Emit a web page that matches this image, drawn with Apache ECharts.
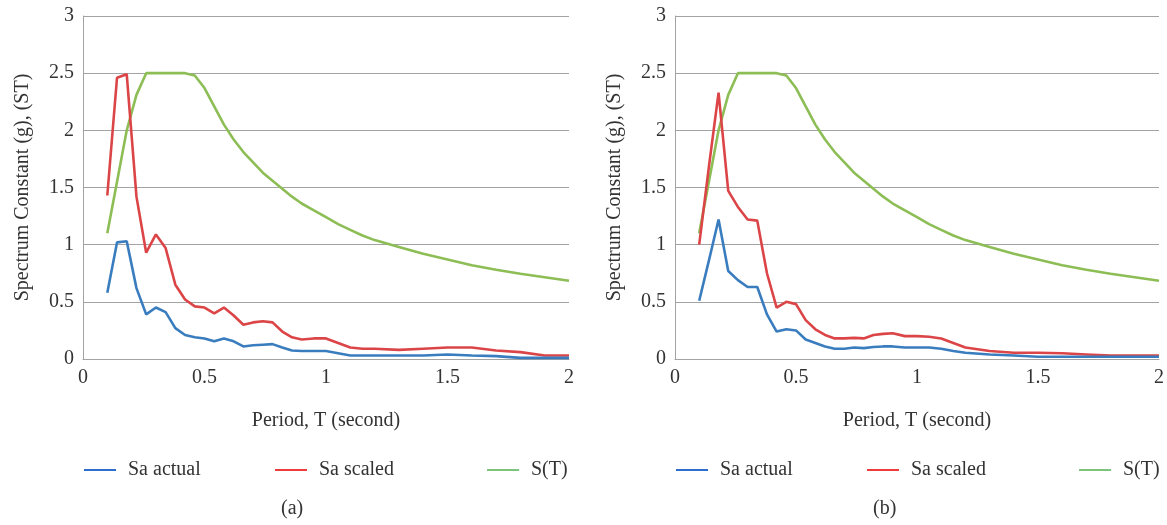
<!DOCTYPE html>
<html>
<head>
<meta charset="utf-8">
<script src="https://cdn.jsdelivr.net/npm/echarts@6/dist/echarts.min.js"></script>
<style>
  html, body { margin: 0; padding: 0; background: #fff; }
  #chart { width: 1167px; height: 525px; }
</style>
</head>
<body>
<div id="chart"></div>
<script>
// period values (s) shared by every curve
var periods = [0.10, 0.14, 0.18, 0.22, 0.26, 0.30, 0.34, 0.38, 0.42, 0.46, 0.50, 0.54, 0.58, 0.62, 0.66, 0.70, 0.74, 0.78, 0.82, 0.86, 0.90, 0.95, 1.00, 1.05, 1.10, 1.15, 1.20, 1.30, 1.40, 1.50, 1.60, 1.70, 1.80, 1.90, 2.00];

// design spectrum, same in both panels
var sT = [1.10, 1.55, 2.00, 2.31, 2.50, 2.50, 2.50, 2.50, 2.50, 2.48, 2.37, 2.21, 2.05, 1.92, 1.81, 1.72, 1.63, 1.56, 1.49, 1.42, 1.36, 1.30, 1.24, 1.18, 1.13, 1.08, 1.04, 0.98, 0.92, 0.87, 0.82, 0.78, 0.745, 0.715, 0.685];

// panel (a)
var actualA = [0.58, 1.02, 1.03, 0.62, 0.39, 0.45, 0.41, 0.27, 0.21, 0.19, 0.18, 0.155, 0.18, 0.155, 0.11, 0.12, 0.125, 0.13, 0.10, 0.075, 0.07, 0.07, 0.07, 0.05, 0.03, 0.03, 0.03, 0.03, 0.03, 0.04, 0.03, 0.025, 0.01, 0.01, 0.01];
var scaledA = [1.43, 2.46, 2.49, 1.42, 0.93, 1.09, 0.97, 0.65, 0.52, 0.46, 0.45, 0.40, 0.45, 0.38, 0.30, 0.32, 0.33, 0.32, 0.24, 0.19, 0.17, 0.18, 0.18, 0.14, 0.10, 0.09, 0.09, 0.08, 0.09, 0.10, 0.10, 0.075, 0.06, 0.03, 0.03];

// panel (b)
var actualB = [0.51, 0.86, 1.22, 0.77, 0.69, 0.63, 0.63, 0.39, 0.24, 0.26, 0.25, 0.17, 0.14, 0.11, 0.09, 0.09, 0.10, 0.095, 0.105, 0.11, 0.11, 0.10, 0.10, 0.10, 0.09, 0.07, 0.055, 0.04, 0.03, 0.02, 0.02, 0.02, 0.02, 0.02, 0.02];
var scaledB = [1.00, 1.68, 2.33, 1.47, 1.33, 1.22, 1.21, 0.75, 0.45, 0.50, 0.48, 0.34, 0.26, 0.21, 0.18, 0.18, 0.185, 0.18, 0.21, 0.22, 0.225, 0.20, 0.20, 0.195, 0.18, 0.14, 0.10, 0.07, 0.055, 0.055, 0.05, 0.04, 0.03, 0.03, 0.03];

var xTicks = [0, 0.5, 1, 1.5, 2];
var names = ['Sa actual', 'Sa scaled', 'S(T)'];
var panelLabels = ['(a)', '(b)'];

var lineColors = ['#3a7dbf', '#db4547', '#8dbd55'];
var legendColors = ['#2e6fcd', '#ee3b3b', '#7cc47c'];
var font = '"Liberation Serif", "DejaVu Serif", serif';
var gray = '#a3a3a3';

function pairs(vals) {
    return periods.map(function (t, i) { return [t, vals[i]]; });
}

var gridLefts = [83, 675];
var panels = [[actualA, scaledA, sT], [actualB, scaledB, sT]];

var grids = [], xAxes = [], yAxes = [], series = [], legends = [], graphics = [];

gridLefts.forEach(function (gl, p) {
    grids.push({ left: gl, top: 16, width: 486, height: 343 });
    xAxes.push({
        type: 'value', gridIndex: p, min: 0, max: 2, interval: 0.5,
        name: 'Period, T (second)', nameLocation: 'middle', nameGap: 52,
        nameTextStyle: { fontFamily: font, fontSize: 20, color: '#333' },
        axisLine: { show: true, lineStyle: { color: gray, width: 1 } },
        axisTick: { show: false },
        splitLine: { show: false },
        axisLabel: {
            fontFamily: font, fontSize: 20, color: '#333', margin: 9,
            formatter: function (v) { return xTicks.indexOf(v) >= 0 ? String(v) : ''; }
        }
    });
    yAxes.push({
        type: 'value', gridIndex: p, min: 0, max: 3, interval: 0.5,
        name: 'Spectrum Constant (g), (ST)', nameLocation: 'middle', nameGap: 50,
        nameTextStyle: { fontFamily: font, fontSize: 20, color: '#333' },
        axisLine: { show: true, lineStyle: { color: gray, width: 1 } },
        axisTick: { show: false },
        splitLine: { show: true, lineStyle: { color: gray, width: 1 } },
        axisLabel: { fontFamily: font, fontSize: 20, color: '#333', margin: 9 }
    });
    panels[p].forEach(function (vals, k) {
        series.push({
            name: names[k], type: 'line', xAxisIndex: p, yAxisIndex: p,
            data: pairs(vals), symbol: 'none', smooth: false,
            lineStyle: { color: lineColors[k], width: 2.6 },
            itemStyle: { color: lineColors[k] },
            z: 3 - k + 2
        });
    });
    [1, 192, 404].forEach(function (off, k) {
        legends.push({
            left: gl + off - 5, top: 455,
            icon: 'rect', itemWidth: 32, itemHeight: 2,
            textStyle: { fontFamily: font, fontSize: 20, color: '#333', padding: [0, 0, 0, 7] },
            data: [{
                name: names[k],
                itemStyle: { color: legendColors[k] }
            }]
        });
    });
    graphics.push({
        type: 'text', left: gl + 198, top: 499,
        style: { text: panelLabels[p], font: '20px ' + font, fill: '#333' }
    });
});

var chart = echarts.init(document.getElementById('chart'));
chart.setOption({
    animation: false,
    backgroundColor: '#fff',
    grid: grids,
    xAxis: xAxes,
    yAxis: yAxes,
    legend: legends,
    graphic: graphics,
    series: series
});
</script>
</body>
</html>
